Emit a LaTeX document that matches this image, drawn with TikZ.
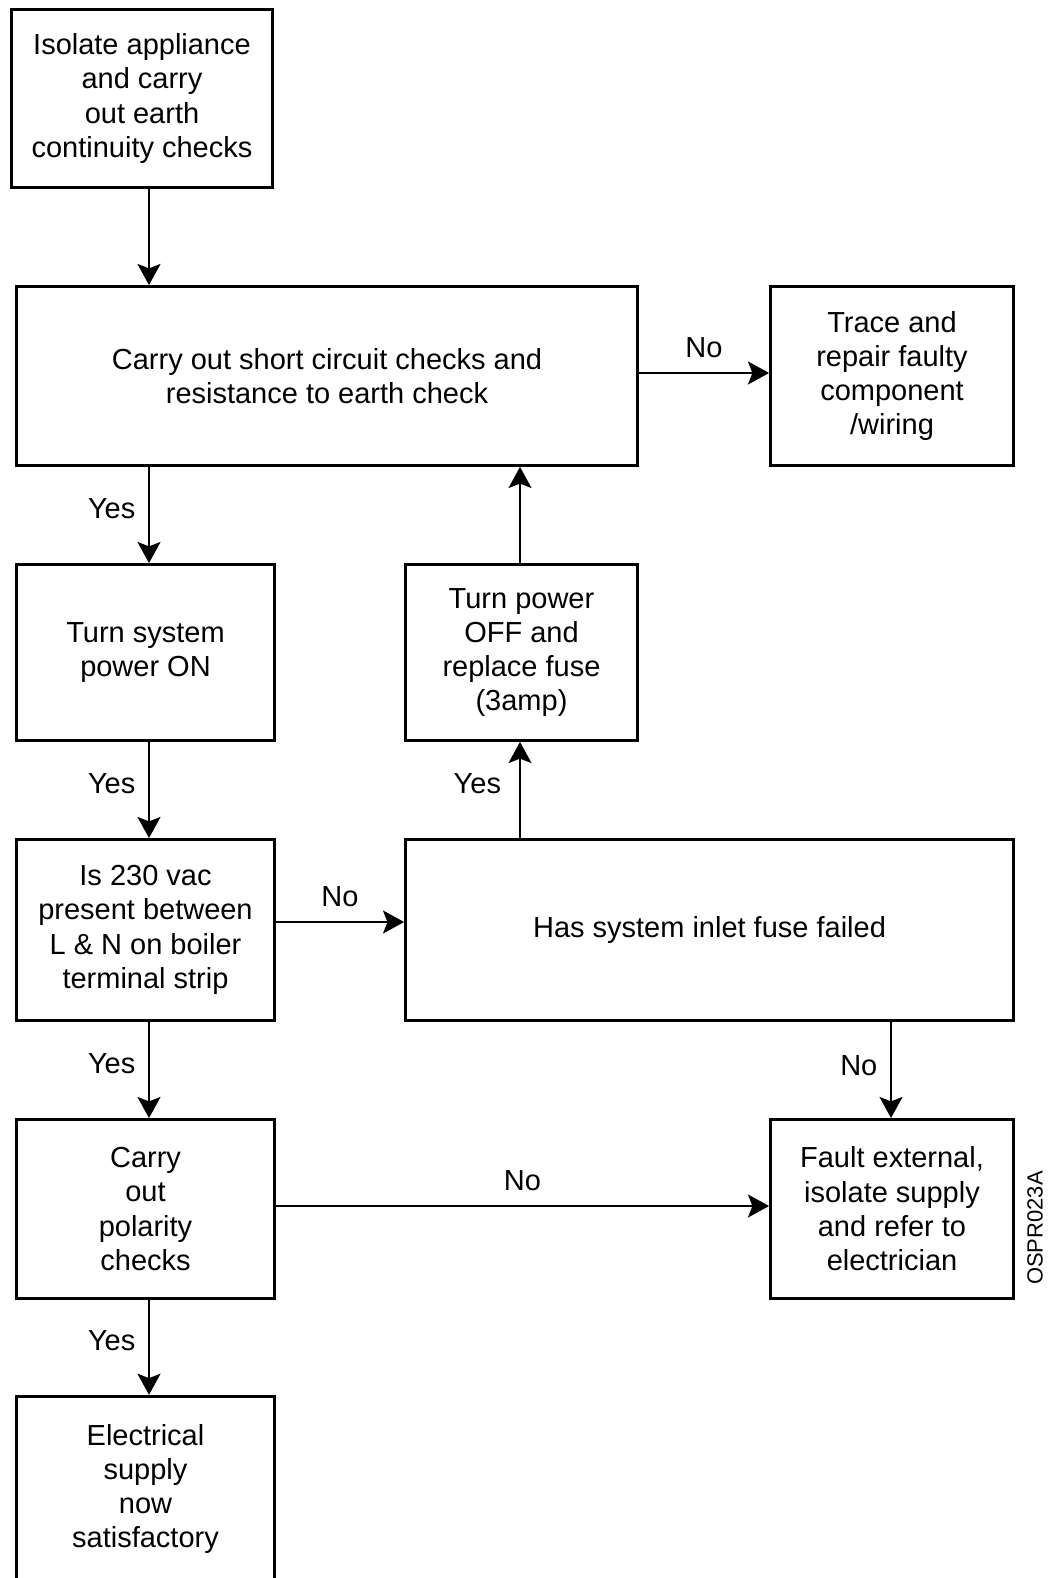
\documentclass[tikz,border=0pt]{standalone}
\usepackage{fontspec}
\setmainfont{Liberation Sans}
\usetikzlibrary{arrows.meta,positioning}

\begin{document}
\begin{tikzpicture}[
    x=0.02cm, y=-0.02cm,
    box/.style={draw, line width=1.6pt, align=center, inner sep=0pt,
      font=\fontsize{16.5}{19.5}\selectfont},
    lbl/.style={font=\fontsize{16.5}{19.5}\selectfont, inner sep=2pt},
    arr/.style={-{Stealth[length=12pt, width=13pt, inset=2.5pt]}, line width=1.6pt},
  ]
  \useasboundingbox (0,0) rectangle (1049,1578);
  \clip (0,0) rectangle (1049,1578);

  % Guides for the connectors
  \coordinate (colL) at (149,0);
  \coordinate (colM) at (520,0);
  \coordinate (colR) at (891,0);
  \coordinate (rowA) at (0,373);
  \coordinate (rowB) at (0,922);
  \coordinate (rowC) at (0,1206);

  % Left column
  \node[box, minimum width=5.22cm, minimum height=3.56cm] (iso) at (142,98.5)
    {Isolate appliance\\and carry\\out earth\\continuity checks};
  \node[box, minimum width=12.42cm, minimum height=3.58cm] (sc) at (327,376)
    {Carry out short circuit checks and\\resistance to earth check};
  \node[box, minimum width=5.16cm, minimum height=3.52cm] (pon) at (145.5,652.5)
    {Turn system\\power ON};
  \node[box, minimum width=5.16cm, minimum height=3.62cm] (vac) at (145.5,930)
    {Is 230 vac\\present between\\L \& N on boiler\\terminal strip};
  \node[box, minimum width=5.16cm, minimum height=3.58cm] (pol) at (145.5,1209)
    {Carry\\out\\polarity\\checks};
  \node[box, minimum width=5.16cm, minimum height=3.71cm] (ok) at (145.5,1489)
    {Electrical\\supply\\now\\satisfactory};

  % Right side
  \node[box, minimum width=4.86cm, minimum height=3.58cm] (trace) at (892,376)
    {Trace and\\repair faulty\\component\\/wiring};
  \node[box, minimum width=4.64cm, minimum height=3.52cm] (poff) at (521.5,652.5)
    {Turn power\\OFF and\\replace fuse\\(3amp)};
  \node[box, minimum width=12.16cm, minimum height=3.62cm] (fuse) at (709.5,930)
    {Has system inlet fuse failed};
  \node[box, minimum width=4.86cm, minimum height=3.58cm] (ext) at (892,1209)
    {Fault external,\\isolate supply\\and refer to\\electrician};

  \node[rotate=90, font=\fontsize{12.5}{15}\selectfont] (code) at (1035,1228)
    {OSPR023A};

  % Down the left column
  \draw[arr] (iso.south -| colL) -- (sc.north -| colL);
  \draw[arr] (sc.south -| colL) --
    node[lbl, pos=0.43, left=5pt] (yes1) {Yes} (pon.north -| colL);
  \draw[arr] (pon.south -| colL) --
    node[lbl, pos=0.43, left=5pt] (yes2) {Yes} (vac.north -| colL);
  \draw[arr] (vac.south -| colL) --
    node[lbl, pos=0.43, left=5pt] (yes3) {Yes} (pol.north -| colL);
  \draw[arr] (pol.south -| colL) --
    node[lbl, pos=0.43, left=5pt] (yes4) {Yes} (ok.north -| colL);

  % Branches
  \draw[arr] (sc.east |- rowA) --
    node[lbl, above=6pt] (no1) {No} (trace.west |- rowA);
  \draw[arr] (vac.east |- rowB) --
    node[lbl, above=6pt] (no2) {No} (fuse.west |- rowB);
  \draw[arr] (fuse.north -| colM) --
    node[lbl, pos=0.57, left=8pt] (yes5) {Yes} (poff.south -| colM);
  \draw[arr] (poff.north -| colM) -- (sc.south -| colM);
  \draw[arr] (fuse.south -| colR) --
    node[lbl, pos=0.45, left=5pt] (no3) {No} (ext.north -| colR);
  \draw[arr] (pol.east |- rowC) --
    node[lbl, above=6pt] (no4) {No} (ext.west |- rowC);

\end{tikzpicture}
\end{document}
